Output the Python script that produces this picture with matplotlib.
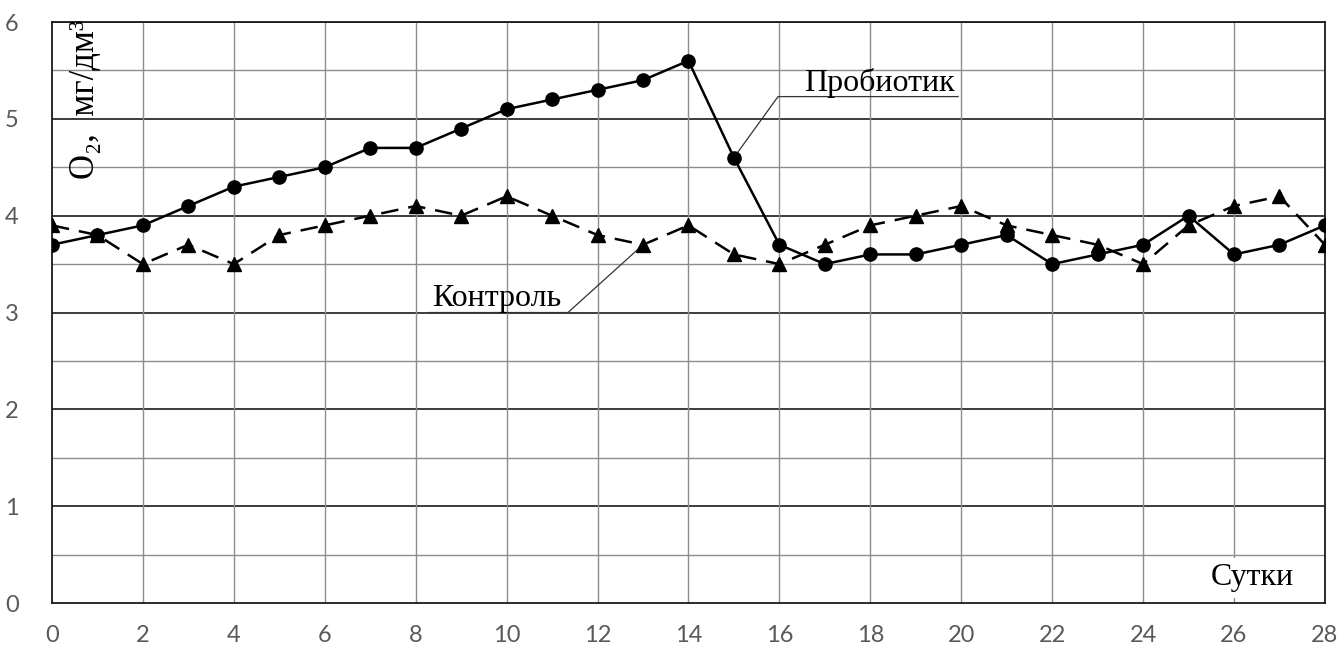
import numpy as np
import matplotlib.pyplot as plt

# сутки и концентрация O2
days = list(range(0, 29))
probiotic = [3.7, 3.8, 3.9, 4.1, 4.3, 4.4, 4.5, 4.7, 4.7, 4.9, 5.1, 5.2, 5.3, 5.4, 5.6,
             4.6, 3.7, 3.5, 3.6, 3.6, 3.7, 3.8, 3.5, 3.6, 3.7, 4.0, 3.6, 3.7, 3.9]
control = [3.9, 3.8, 3.5, 3.7, 3.5, 3.8, 3.9, 4.0, 4.1, 4.0, 4.2, 4.0, 3.8, 3.7, 3.9,
           3.6, 3.5, 3.7, 3.9, 4.0, 4.1, 3.9, 3.8, 3.7, 3.5, 3.9, 4.1, 4.2, 3.7]
x_ticks = list(range(0, 29, 2))
y_ticks = list(range(0, 7))

serif = ['Liberation Serif', 'DejaVu Serif']

fig = plt.figure(figsize=(13.42, 6.48), dpi=100)
ax = fig.add_axes([0.0387, 0.0694, 0.9486, 0.8966])

# сетка
for y in np.arange(0.5, 6, 1.0):
    ax.axhline(y, color='#8c8c8c', lw=1.0, zorder=1)
for y in y_ticks[1:]:
    ax.axhline(y, color='#1a1a1a', lw=1.2, zorder=1)
for x in x_ticks[1:-1]:
    ax.axvline(x, color='#8c8c8c', lw=1.0, zorder=1)

# линии
ax.plot(days, probiotic, color='black', lw=1.8, marker='o', markersize=9.5, zorder=3)
ax.plot(days, control, color='black', lw=1.8, marker='^', markersize=10.5,
        dashes=(7, 4), zorder=3)

ax.set_xlim(0, 28)
ax.set_ylim(0, 6)
ax.set_xticks(x_ticks)
ax.set_yticks(y_ticks)
ax.tick_params(length=0, labelsize=17, labelcolor='#595959')
ax.tick_params(axis='x', pad=16)
ax.tick_params(axis='y', pad=24)
for lab in ax.get_xticklabels() + ax.get_yticklabels():
    lab.set_fontfamily('Lato')
for s in ax.spines.values():
    s.set_color('#1a1a1a')
    s.set_linewidth(1.3)

# подписи серий
ax.plot([15, 15.97, 19.93], [4.6, 5.23, 5.23], color='#333333', lw=0.9, zorder=2)
ax.text(16.55, 5.29, 'Пробиотик', family=serif, fontsize=23, va='baseline', ha='left')
ax.plot([13, 11.35, 8.3], [3.7, 3.0, 3.0], color='#333333', lw=0.9, zorder=2)
ax.text(8.36, 3.07, 'Контроль', family=serif, fontsize=23, va='baseline', ha='left')

ax.text(0.73, 5.2, 'O₂,  мг/дм³', family=serif, fontsize=25, rotation=90,
        ha='center', va='center')
ax.text(26.4, 0.26, 'Сутки', family=serif, fontsize=23, ha='center', va='center',
        bbox=dict(facecolor='white', edgecolor='none', pad=4), zorder=4)

plt.savefig('out.png', dpi=100)
